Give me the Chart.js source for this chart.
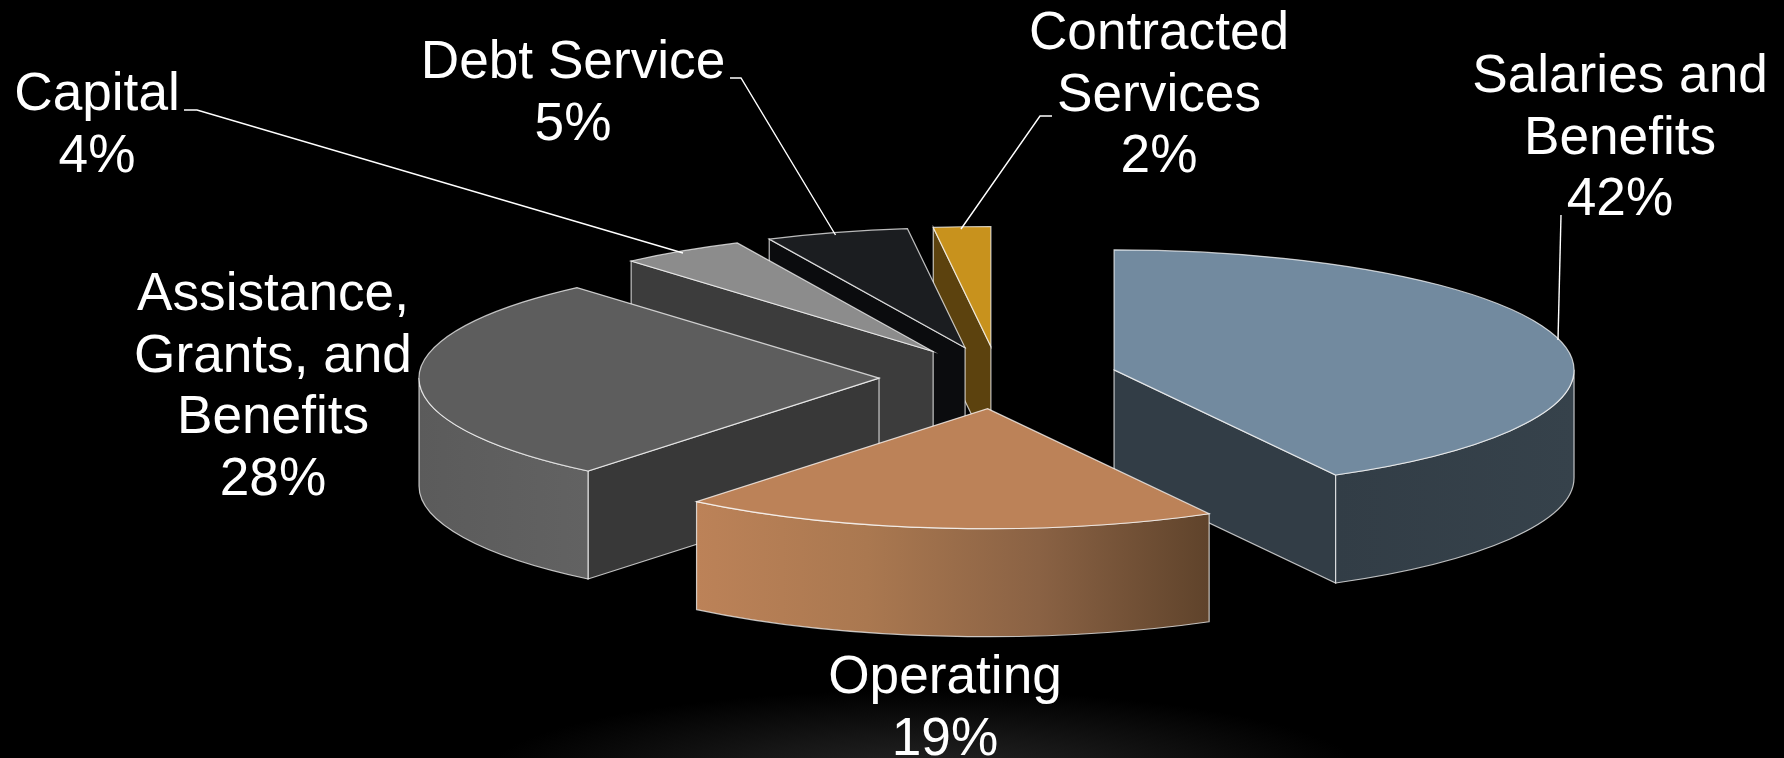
<!DOCTYPE html>
<html>
<head>
<meta charset="utf-8">
<style>
html,body{margin:0;padding:0;width:1784px;height:758px;overflow:hidden;background:#000;}
#wrap{position:absolute;left:0;top:0;width:1784px;height:758px;
background:radial-gradient(ellipse 440px 85px at 925px 775px,#262626 0%,#161616 45%,#000 100%);}
canvas{display:block;}
</style>
<script src="https://cdn.jsdelivr.net/npm/chart.js@4"></script>
</head>
<body>
<div id="wrap"><canvas id="c" width="1784" height="758"></canvas></div>
<script>
const categories = ['Salaries and Benefits','Operating','Assistance, Grants, and Benefits','Capital','Debt Service','Contracted Services'];
const values = [42,18.9,27.7,4.4,5,2];
const labelLines = [['Salaries and','Benefits'],['Operating'],['Assistance,','Grants, and','Benefits'],['Capital'],['Debt Service'],['Contracted','Services']];

const topColors = ['#728A9F','#BC8258','#5D5D5D','#8C8C8C','#1B1D20','#C8921D'];
const faceColors = ['#323D46','#BC8258','#383838','#3C3C3C','#0B0C0E','#5C420E'];
const rimStops = [['#323D46','#36424B'],['#BC8258','#AA7850','#8A6244','#5F432B'],['#5B5B5B','#626262'],['#3C3C3C','#3C3C3C'],['#0B0C0E','#0B0C0E'],['#5C420E','#5C420E']];

const labelCenters = [[1620,92],[945,693],[273,310],[97,110],[573,78],[1159,49]];
const leaders = [[[1561,215],[1558,340]],null,null,[[184,110],[197,110],[683,253]],[[730,78],[741,78],[835.5,235]],[[1052,116],[1040,116],[961,229]]];

const view = {cx:998.4,cy:377.6,rx:460,ry:120,explode:119.4,depth:108};
const edge = 'rgba(255,255,255,0.72)';

function fillStroke(ctx,fill){ctx.fillStyle=fill;ctx.fill();ctx.lineWidth=1.2;ctx.strokeStyle=edge;ctx.stroke();}

const pie3d = {
  id:'pie3d',
  beforeDatasetDraw(chart,args){
    const ctx = chart.ctx, arcs = args.meta.data;
    const items = arcs.map((arc,i)=>{
      const mid=(arc.startAngle+arc.endAngle)/2;
      return {arc,i,
        ax:view.cx+Math.cos(mid)*view.explode,
        ay:view.cy+Math.sin(mid)*view.explode*view.ry/view.rx};
    });
    const d=view.depth;
    [...items].sort((p,q)=>p.ay-q.ay).forEach(({arc,i,ax,ay})=>{
      [[arc.startAngle,Math.cos(arc.startAngle)<-1e-6],[arc.endAngle,Math.cos(arc.endAngle)>1e-6]].forEach(([a,vis])=>{
        if(!vis) return;
        const px=ax+Math.cos(a)*view.rx, py=ay+Math.sin(a)*view.ry;
        ctx.beginPath();ctx.moveTo(ax,ay);ctx.lineTo(px,py);ctx.lineTo(px,py+d);ctx.lineTo(ax,ay+d);ctx.closePath();
        fillStroke(ctx,faceColors[i]);
      });
      const a0=Math.max(arc.startAngle,0), a1=Math.min(arc.endAngle,Math.PI);
      if(a1>a0){
        const xs=[a0,a1,...(a0<Math.PI/2&&a1>Math.PI/2?[Math.PI/2]:[])].map(a=>ax+Math.cos(a)*view.rx);
        const g=ctx.createLinearGradient(Math.min(...xs),0,Math.max(...xs),0);
        const st=rimStops[i];
        st.forEach((c,k)=>g.addColorStop(k/(st.length-1),c));
        ctx.beginPath();
        ctx.ellipse(ax,ay,view.rx,view.ry,0,a0,a1,false);
        ctx.ellipse(ax,ay+d,view.rx,view.ry,0,a1,a0,true);
        ctx.closePath();
        fillStroke(ctx,g);
      }
    });
    items.forEach(({arc,i,ax,ay})=>{
      const R=arc.outerRadius;
      ctx.save();
      ctx.translate(ax,ay);
      ctx.scale(view.rx/R,view.ry/R);
      ctx.translate(-arc.x,-arc.y);
      arc.draw(ctx);
      ctx.restore();
      ctx.beginPath();
      ctx.moveTo(ax,ay);
      ctx.ellipse(ax,ay,view.rx,view.ry,0,arc.startAngle,arc.endAngle,false);
      ctx.closePath();
      ctx.lineWidth=1.2;ctx.strokeStyle=edge;ctx.stroke();
    });
    return false;
  },
  afterDraw(chart){
    const ctx=chart.ctx;
    ctx.save();
    ctx.strokeStyle='#fff';ctx.lineWidth=1.4;
    leaders.forEach(pts=>{
      if(!pts) return;
      ctx.beginPath();
      pts.forEach((p,k)=>k?ctx.lineTo(p[0],p[1]):ctx.moveTo(p[0],p[1]));
      ctx.stroke();
    });
    ctx.fillStyle='#fff';ctx.font='53.2px "Liberation Sans", Arial, sans-serif';
    ctx.textAlign='center';ctx.textBaseline='alphabetic';
    labelLines.forEach((lines,i)=>{
      const [x,y]=labelCenters[i];
      [...lines,Math.round(values[i])+'%'].forEach((t,k)=>ctx.fillText(t,x,y+k*61.7));
    });
    ctx.restore();
  }
};

new Chart(document.getElementById('c'),{
  type:'pie',
  data:{labels:categories,datasets:[{data:values,backgroundColor:topColors,borderWidth:0,clip:false}]},
  options:{responsive:false,animation:false,events:[],
    plugins:{legend:{display:false},tooltip:{enabled:false}}},
  plugins:[pie3d]
});
</script>
</body>
</html>
